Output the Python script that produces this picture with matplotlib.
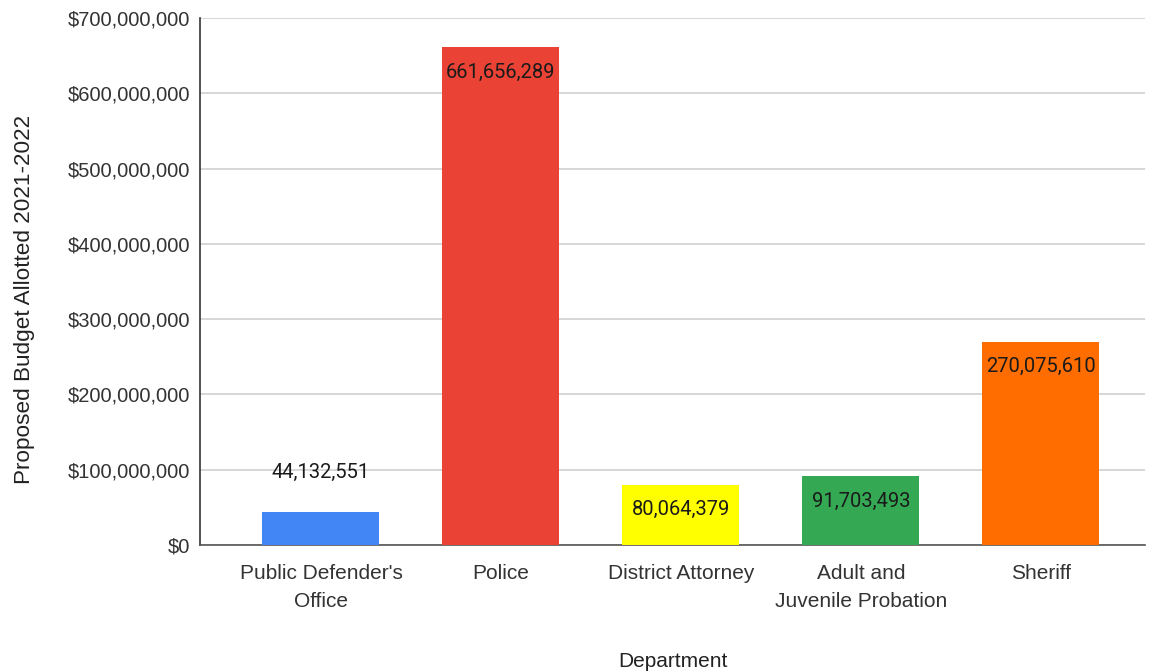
"""
Proposed budget allotted 2021-2022 by department, bar chart saved to out.png.
"""

import matplotlib.pyplot as plt
from matplotlib.ticker import FuncFormatter

# ── data ──────────────────────────────────────────────────────
departments = ["Public Defender's\nOffice", "Police", "District Attorney",
               "Adult and\nJuvenile Probation", "Sheriff"]
budgets = [44132551, 661656289, 80064379, 91703493, 270075610]
colors = ["#4285F4", "#EA4335", "#FFFF00", "#34A853", "#FF6D01"]
label_inside = [False, True, True, True, True]

# ── figure ────────────────────────────────────────────────────
fig = plt.figure(figsize=(11.53, 6.72), dpi=100)
ax = fig.add_axes([0.1735, 0.189, 0.8195, 0.784])

x = range(len(departments))
bars = ax.bar(x, budgets, width=0.65, color=colors, zorder=3)

# bar value labels
for rect, val, inside in zip(bars, budgets, label_inside):
    cx = rect.get_x() + rect.get_width() / 2
    offset = -25 if inside else 39
    ax.annotate(f"{val:,}", (cx, val), xytext=(0, offset), textcoords="offset pixels",
                ha="center", va="center", fontsize=14.5, family="Roboto",
                color="#1a1a1a", zorder=4)

ax.set_xlim(-0.672, 4.578)
ax.set_ylim(0, 700000000)
ax.set_yticks(range(0, 700000001, 100000000))
ax.yaxis.set_major_formatter(FuncFormatter(lambda v, _: f"${v:,.0f}"))

ax.set_xticks(list(x))
ax.set_xticklabels(departments, fontsize=15, family="Liberation Sans",
                   color="#333333", linespacing=1.55)
for lbl in ax.get_yticklabels():
    lbl.set_fontsize(14.5)
    lbl.set_family("Liberation Sans")
    lbl.set_color("#333333")

ax.tick_params(axis="both", length=0)
ax.tick_params(axis="x", pad=14)
ax.tick_params(axis="y", pad=7)

ax.grid(axis="y", color="#d0d0d0", linewidth=1.2, zorder=0)
for side in ["top", "right"]:
    ax.spines[side].set_visible(False)
ax.spines["left"].set_color("#333333")
ax.spines["bottom"].set_color("#555555")
ax.spines["left"].set_linewidth(1.2)
ax.spines["bottom"].set_linewidth(1.2)

ax.set_xlabel("Department", fontsize=15, family="Liberation Sans",
              color="#222222", labelpad=30)
ax.set_ylabel("Proposed Budget Allotted 2021-2022", fontsize=16.2,
              family="Liberation Sans", color="#222222")
ax.yaxis.set_label_coords(-0.175, 0.467)

fig.savefig("out.png", dpi=100)
